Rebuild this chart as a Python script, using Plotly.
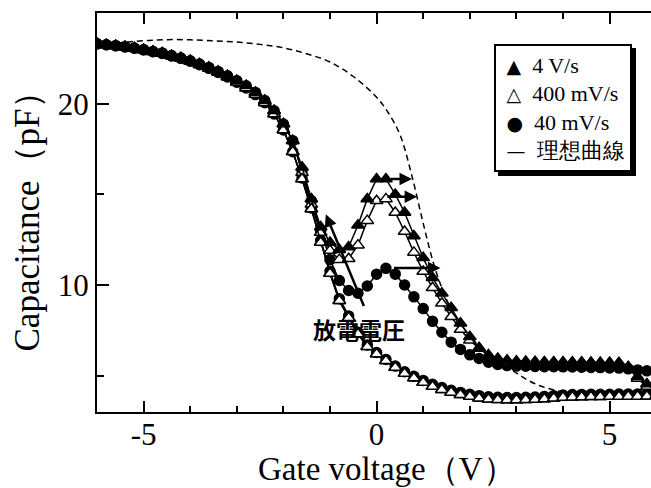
import plotly.graph_objects as go

# ---------------- data ----------------
gate_v = [-6.0, -5.8, -5.6, -5.4, -5.2, -5.0, -4.8, -4.6, -4.4, -4.2,
          -4.0, -3.8, -3.6, -3.4, -3.2, -3.0, -2.8, -2.6, -2.4, -2.2,
          -2.0, -1.8, -1.6, -1.4, -1.2, -1.0, -0.8, -0.6, -0.4, -0.2,
          0.0, 0.2, 0.4, 0.6, 0.8, 1.0, 1.2, 1.4, 1.6, 1.8,
          2.0, 2.2, 2.4, 2.6, 2.8, 3.0, 3.2, 3.4, 3.6, 3.8,
          4.0, 4.2, 4.4, 4.6, 4.8, 5.0, 5.2, 5.4, 5.6, 5.8, 6.0]

# forward sweep, common part (-6.0 .. -1.8)
fwd_common = [23.3, 23.25, 23.2, 23.14, 23.07, 22.98, 22.88, 22.8, 22.65, 22.52,
              22.37, 22.19, 22.0, 21.78, 21.54, 21.27, 20.99, 20.62, 20.17, 19.61,
              18.88, 17.96]
# reverse sweep, common part (-6.0 .. -1.8)
rev_common = [23.3, 23.25, 23.2, 23.13, 23.06, 22.97, 22.87, 22.77, 22.63, 22.5,
              22.34, 22.15, 21.95, 21.72, 21.47, 21.18, 20.87, 20.5, 20.05, 19.43,
              18.55, 17.35]

# forward sweep (-1.6 .. 6.0)
fwd_4V = [16.5, 14.75, 13.2, 12.35, 11.95, 12.1, 13.3, 14.75,
          15.85, 15.85, 15.0, 14.0, 12.7, 11.5, 10.4, 9.55, 8.75, 7.9,
          7.15, 6.55, 6.15, 5.95, 5.85, 5.8, 5.78, 5.77, 5.76, 5.75,
          5.75, 5.74, 5.74, 5.73, 5.72, 5.72, 5.7, 5.5, 4.95, 4.55, 4.1]
fwd_400mV = [16.2, 14.45, 12.9, 11.9, 11.4, 11.45, 12.2, 13.55,
             14.65, 14.75, 14.0, 12.95, 11.8, 10.75, 9.85, 9.0, 8.25, 7.55,
             6.95, 6.5, 6.1, 5.9, 5.8, 5.77, 5.76, 5.75, 5.75, 5.74,
             5.74, 5.73, 5.73, 5.72, 5.71, 5.71, 5.7, 5.45, 4.85, 4.4, 4.0]
fwd_40mV = [16.3, 14.65, 13.0, 11.4, 10.25, 9.7, 9.55, 9.95,
            10.6, 10.92, 10.6, 10.0, 9.35, 8.7, 8.0, 7.4, 6.85, 6.45,
            6.15, 5.95, 5.75, 5.62, 5.56, 5.53, 5.52, 5.51, 5.5, 5.5,
            5.49, 5.48, 5.47, 5.46, 5.45, 5.43, 5.42, 5.38, 5.32, 5.27, 5.2]

# reverse sweep (-1.6 .. 6.0)
rev_400mV = [15.85, 14.19, 12.35, 10.64, 9.13, 8.2, 7.3, 6.6,
             6.2, 5.82, 5.45, 5.12, 4.87, 4.63, 4.41, 4.23, 4.08, 3.95,
             3.85, 3.76, 3.7, 3.67, 3.66, 3.66, 3.67, 3.69, 3.72, 3.76,
             3.8, 3.82, 3.83, 3.84, 3.84, 3.85, 3.85, 3.86, 3.86, 3.87, 3.9]
rev_4V = [15.85, 14.19, 12.35, 10.64, 9.13, 8.2, 7.3, 6.6,
          6.2, 5.82, 5.45, 5.12, 4.87, 4.63, 4.41, 4.23, 4.08, 3.95,
          3.85, 3.76, 3.7, 3.67, 3.66, 3.66, 3.67, 3.69, 3.72, 3.76,
          3.8, 3.82, 3.83, 3.84, 3.84, 3.85, 3.85, 3.86, 3.86, 3.87, 3.9]
rev_40mV = [15.9, 14.25, 12.45, 10.75, 9.25, 8.3, 7.4, 6.7,
            6.28, 5.9, 5.53, 5.22, 4.97, 4.74, 4.53, 4.35, 4.2, 4.08,
            3.98, 3.9, 3.84, 3.81, 3.8, 3.8, 3.81, 3.83, 3.86, 3.9,
            3.94, 3.96, 3.97, 3.98, 3.98, 3.98, 3.99, 3.99, 3.99, 4.0, 4.0]

# ideal C-V curve
ideal_v = [-6, -5.5, -5, -4.5, -4, -3.5, -3, -2.5, -2, -1.5, -1, -0.5, 0, 0.25,
           0.5, 0.75, 1.0, 1.25, 1.5, 1.75, 2.0, 2.25, 2.5, 2.75, 3.0, 3.25,
           3.5, 3.75, 4.0, 4.5, 5, 5.5, 6]
ideal_c = [23.25, 23.36, 23.47, 23.53, 23.52, 23.47, 23.4, 23.27, 23.08, 22.75,
           22.3, 21.5, 20.35, 19.5, 18.3, 16.1, 13.4, 10.95, 9.2, 7.9, 7.0, 6.45,
           6.0, 5.6, 5.15, 4.75, 4.45, 4.25, 4.1, 4.0, 3.97, 3.96, 3.95]

legend_labels = ["4 V/s", "400 mV/s", "40 mV/s", "理想曲線"]
legend_symbols = ["▲", "△", "●", "—"]
note_text = "放電電圧"
x_title = "Gate voltage（V）"
y_title = "Capacitance（pF）"

# arrows: (tail_v, tail_c, head_v, head_c)
arrows = [(-0.26, 8.76, -1.09, 13.9),
          (0.27, 15.85, 0.76, 15.85),
          (0.20, 14.87, 0.87, 14.87),
          (0.34, 10.94, 1.37, 10.94)]

x_ticks = [-5, 0, 5]
x_ticktext = ["-5", "0", "5"]
y_ticks = [10, 20]
y_ticktext = ["10", "20"]

# ---------------- figure ----------------
SERIF = "Liberation Serif"
fig = go.Figure()

fig.add_trace(go.Scatter(x=ideal_v, y=ideal_c, mode="lines", line_shape="spline",
                         line=dict(color="black", width=1.5, dash="6px,4px"),
                         showlegend=False))

def branch(y, symbol, fill):
    return go.Scatter(x=gate_v, y=y, mode="lines+markers",
                      line=dict(color="black", width=1.5),
                      marker=dict(symbol=symbol,
                                  size=11 if symbol != "circle" else 10,
                                  color=fill, line=dict(color="black", width=1.5)),
                      showlegend=False, cliponaxis=True)

fig.add_trace(branch(rev_common + rev_4V, "triangle-up", "black"))
fig.add_trace(branch(rev_common + rev_40mV, "circle", "black"))
fig.add_trace(branch(fwd_common + fwd_40mV, "circle", "black"))
fig.add_trace(branch(fwd_common + fwd_400mV, "triangle-up", "white"))
fig.add_trace(branch(rev_common + rev_400mV, "triangle-up", "white"))
fig.add_trace(branch(fwd_common + fwd_4V, "triangle-up", "black"))

annotations = []
for tx, ty, hx, hy in arrows:
    annotations.append(dict(x=hx, y=hy, ax=tx, ay=ty, xref="x", yref="y",
                            axref="x", ayref="y", text="", showarrow=True,
                            arrowhead=2, arrowsize=1, arrowwidth=2.5,
                            arrowcolor="black", standoff=0, startstandoff=0))

annotations.append(dict(x=-0.37, y=7.6, xref="x", yref="y", text=note_text,
                        showarrow=False,
                        font=dict(family="Noto Sans CJK JP", size=23,
                                  color="black", weight="bold")))

# x-axis title
annotations.append(dict(x=0.5235, y=-0.1905, xref="paper", yref="paper",
                        xanchor="center", yanchor="bottom", text=x_title,
                        showarrow=False, borderpad=0,
                        font=dict(family=SERIF, size=33, color="black")))

SYM = '<span style="font-family:DejaVu Sans;font-size:19px">{}</span>'
legend_text = "<br>".join("\u2005" + SYM.format(s) + "\u2002" + l
                          for s, l in zip(legend_symbols, legend_labels))
annotations.append(dict(x=0.7166, y=0.9223, xref="paper", yref="paper",
                        xanchor="left", yanchor="top", align="left",
                        valign="middle",
                        text=legend_text, showarrow=False,
                        width=124, height=114,
                        font=dict(family=SERIF, size=22, color="black"),
                        bgcolor="white", bordercolor="black", borderwidth=2,
                        borderpad=5))

shapes = [dict(type="rect", xref="paper", yref="paper",
               x0=0.7238, x1=0.9729, y0=0.5915, y1=0.9123,
               fillcolor="black", line=dict(width=0), layer="above")]

fig.update_layout(
    width=651, height=488,
    margin=dict(l=97, r=0, t=13, b=76),
    plot_bgcolor="white", paper_bgcolor="white",
    showlegend=False,
    annotations=annotations,
    shapes=shapes,
    xaxis=dict(range=[-6, 5.888], showline=True, linecolor="black", linewidth=2,
               mirror="ticks", ticks="inside", ticklen=11, tickwidth=2,
               tickcolor="black", tickvals=x_ticks, ticktext=x_ticktext,
               showgrid=False, zeroline=False, ticklabelstandoff=-6,
               minor=dict(dtick=1, tick0=0, ticks="inside", ticklen=6,
                          tickwidth=2, tickcolor="black", showgrid=False),
               tickfont=dict(family=SERIF, size=31, color="black")),
    yaxis=dict(range=[3, 25], showline=True, linecolor="black", linewidth=2,
               mirror=False, ticks="inside", ticklen=12, tickwidth=2,
               tickcolor="black", tickvals=y_ticks, ticktext=y_ticktext,
               showgrid=False, zeroline=False,
               minor=dict(tickvals=[5, 15], ticks="inside", ticklen=7,
                          tickwidth=2, tickcolor="black", showgrid=False),
               tickfont=dict(family=SERIF, size=31, color="black"),
               title=dict(text=y_title,
                          font=dict(family=SERIF, size=35, color="black"),
                          standoff=8)),
    yaxis2=dict(range=[3, 25], overlaying="y", side="right", showline=False,
                ticks="inside", ticklen=6, tickwidth=2, tickcolor="black",
                tickvals=y_ticks, showticklabels=False, showgrid=False,
                zeroline=False),
)

fig.write_html("out.html")
